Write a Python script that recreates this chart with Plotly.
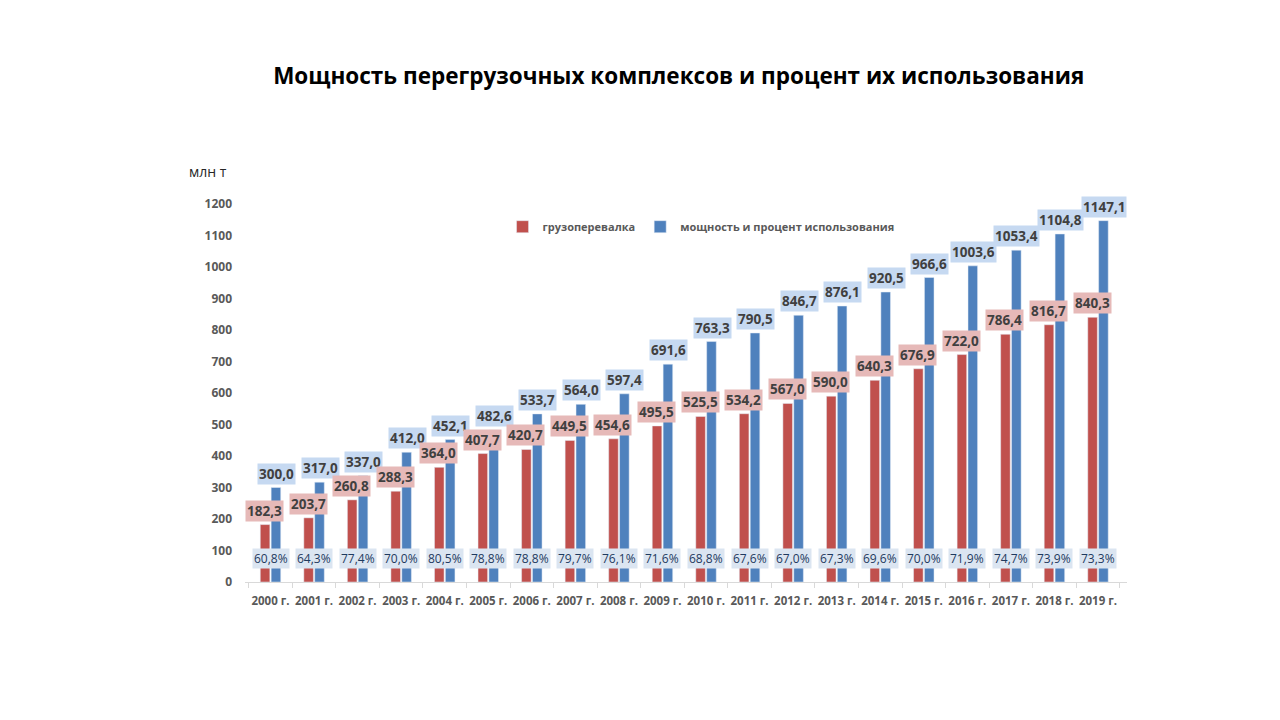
import plotly.graph_objects as go

years = [f"{y} г." for y in range(2000, 2020)]
handling = [182.3, 203.7, 260.8, 288.3, 364.0, 407.7, 420.7, 449.5, 454.6, 495.5,
            525.5, 534.2, 567.0, 590.0, 640.3, 676.9, 722.0, 786.4, 816.7, 840.3]
capacity = [300.0, 317.0, 337.0, 412.0, 452.1, 482.6, 533.7, 564.0, 597.4, 691.6,
            763.3, 790.5, 846.7, 876.1, 920.5, 966.6, 1003.6, 1053.4, 1104.8, 1147.1]
usage_pct = [60.8, 64.3, 77.4, 70.0, 80.5, 78.8, 78.8, 79.7, 76.1, 71.6,
             68.8, 67.6, 67.0, 67.3, 69.6, 70.0, 71.9, 74.7, 73.9, 73.3]
y_ticks = list(range(0, 1300, 100))

RED = "#c0504d"
BLUE = "#4f81bd"
FONT = "Open Sans"


def fmt(v):
    return f"{v:.1f}".replace(".", ",")


fig = go.Figure()
fig.add_trace(go.Bar(name="грузоперевалка", x=years, y=handling, marker_color=RED))
fig.add_trace(go.Bar(name="мощность и процент использования", x=years, y=capacity,
                     marker_color=BLUE))

ann = []
for i, yr in enumerate(years):
    ann.append(dict(x=yr, y=handling[i], text=fmt(handling[i]), showarrow=False,
                    xshift=-6, yshift=14, bgcolor="#e6b9b8", borderpad=1,
                    font=dict(family=FONT, size=13.5, color="#404040", weight="bold")))
    ann.append(dict(x=yr, y=capacity[i], text=fmt(capacity[i]), showarrow=False,
                    xshift=6, yshift=14, bgcolor="#c6d9f1", borderpad=1,
                    font=dict(family=FONT, size=13.5, color="#404040", weight="bold")))
    ann.append(dict(x=yr, y=0, text=fmt(usage_pct[i]) + "%", showarrow=False,
                    yshift=24, bgcolor="#dbe5f1", borderpad=1,
                    font=dict(family=FONT, size=12, color="#1f3a5f")))

ann.append(dict(text="млн т", xref="paper", yref="paper", x=-0.066, y=1.087,
                xanchor="left", yanchor="middle",
                showarrow=False, font=dict(family=FONT, size=14, color="#262626")))

fig.update_layout(
    width=1280, height=720,
    paper_bgcolor="white", plot_bgcolor="white",
    margin=dict(l=237, r=161, t=196, b=146),
    barmode="group", bargap=0.5, bargroupgap=0.12,
    title=dict(text="Мощность перегрузочных комплексов и процент их использования",
               x=0.524, xanchor="center", y=0.905, yanchor="middle",
               font=dict(family=FONT, size=22.5, color="black", weight="bold")),
    legend=dict(orientation="h", x=0.292, y=0.94, xanchor="left", yanchor="middle",
                font=dict(family=FONT, size=11, color="#595959", weight="bold"),
                bgcolor="rgba(0,0,0,0)", itemwidth=30),
    annotations=ann,
    showlegend=True,
)
fig.update_xaxes(showline=True, linecolor="#d9d9d9", ticks="outside", tickson="boundaries",
                 ticklen=5, tickcolor="#d9d9d9", showgrid=False, tickangle=0,
                 automargin=False, ticklabelstandoff=8,
                 tickfont=dict(family=FONT, size=11.5, color="#595959", weight="bold"))
fig.update_yaxes(range=[0, 1200], tickvals=y_ticks, showgrid=False, zeroline=False,
                 showline=False, ticks="", ticklabelstandoff=12, automargin=False,
                 tickfont=dict(family=FONT, size=12, color="#595959", weight="bold"))

fig.write_html("out.html")
